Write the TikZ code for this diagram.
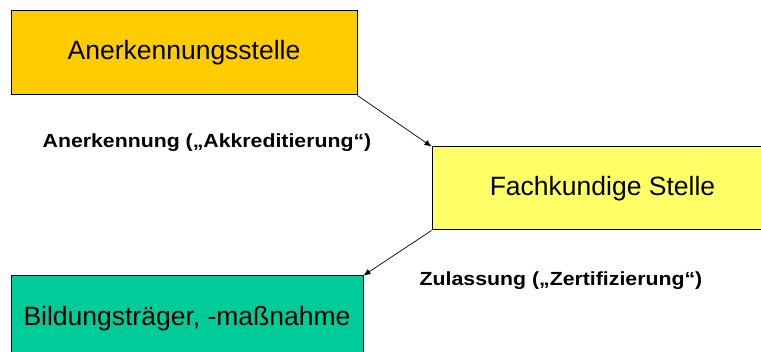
\documentclass[tikz,border=0pt]{standalone}
\usepackage{fontspec}
\setmainfont{Liberation Sans}
\newfontfamily\lblfont[FakeStretch=1.12]{Liberation Sans}
\usetikzlibrary{arrows.meta}
\definecolor{stellegold}{HTML}{FFCC00}
\definecolor{fachgelb}{HTML}{FFFF66}
\definecolor{traegergruen}{HTML}{00CC99}
\begin{document}
\begin{tikzpicture}[x=1pt,y=-1pt,
        box/.style={draw,line width=1pt,inner sep=0pt,font=\fontsize{26.5}{30}\selectfont},
        lbl/.style={anchor=base,inner sep=0pt,font=\lblfont\bfseries\fontsize{19}{22}\selectfont},
        pfeil/.style={-{Latex[length=7pt,width=6pt]},line width=0.7pt}]
            \useasboundingbox (0,0) rectangle (761,352);
            \node[box,fill=stellegold,minimum width=346pt,minimum height=84pt] (stelle) at (184,53) {Anerkennungsstelle};
            \node[box,fill=fachgelb,minimum width=341pt,minimum height=83pt] (fach) at (602.5,188.5) {Fachkundige Stelle};
            \node[box,fill=traegergruen,minimum width=352pt,minimum height=86pt] (traeger) at (187,319) {Bildungsträger, -maßnahme};
            \draw[pfeil] (stelle.south east) -- (fach.north west);
            \draw[pfeil] (fach.south west) -- (traeger.north east);
            \node[lbl] (akk) at (207,148) {Anerkennung („Akkreditierung“)};
            \node[lbl] (zert) at (561,286) {Zulassung („Zertifizierung“)};
        \end{tikzpicture}
\end{document}
